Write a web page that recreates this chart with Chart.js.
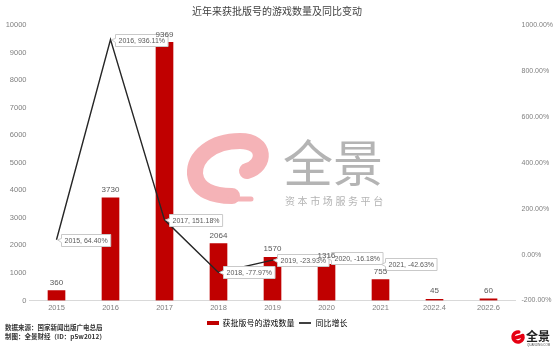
<!DOCTYPE html>
<html>
<head>
<meta charset="utf-8">
<script src="https://cdn.jsdelivr.net/npm/chart.js@4/dist/chart.umd.min.js"></script>
<style>
  html, body { margin: 0; padding: 0; background: #fff; }
  #wrap { width: 554px; height: 351px; position: relative; }
</style>
</head>
<body>
<div id="wrap"><canvas id="gameChart"></canvas></div>
<script>
// données
const years = ['2015', '2016', '2017', '2018', '2019', '2020', '2021', '2022.4', '2022.6'];
const approved = [360, 3730, 9369, 2064, 1570, 1316, 755, 45, 60];
const growth = [64.40, 936.11, 151.18, -77.97, -23.93, -16.18, -42.63, null, null];

const FONT = '"Liberation Sans", "Noto Sans CJK SC", sans-serif';
const CJK = '"Noto Sans CJK SC", "Liberation Sans", sans-serif';

// petites images pour la légende (rectangle rouge / trait noir)
function swatch(w, h, color) {
    const c = document.createElement('canvas');
    c.width = w; c.height = h;
    const g = c.getContext('2d');
    g.fillStyle = color;
    g.fillRect(0, 0, w, h);
    return c;
}
const barSwatch = swatch(12, 4, '#c00000');
const lineSwatch = swatch(12, 2, '#404040');

// filigrane au centre
const watermark = {
    id: 'watermark',
    beforeDatasetsDraw(chart) {
        const ctx = chart.ctx;
        ctx.save();
        ctx.strokeStyle = '#f5b3b7';
        ctx.lineCap = 'round';
        ctx.lineWidth = 16;
        ctx.beginPath();
        ctx.moveTo(247, 171);
        ctx.bezierCurveTo(266, 166, 267, 141, 240, 141);
        ctx.bezierCurveTo(212, 141, 194, 157, 195, 174);
        ctx.bezierCurveTo(197, 191, 214, 196, 232, 196);
        ctx.stroke();
        ctx.lineWidth = 5;
        ctx.beginPath();
        ctx.moveTo(230, 199);
        ctx.lineTo(251, 199);
        ctx.stroke();
        ctx.fillStyle = '#b4b4b4';
        ctx.font = '50px ' + CJK;
        ctx.textBaseline = 'middle';
        ctx.textAlign = 'left';
        ctx.fillText('全景', 283, 163);
        ctx.font = '10px ' + CJK;
        ctx.letterSpacing = '2.6px';
        ctx.fillText('资本市场服务平台', 285, 201);
        ctx.restore();
    }
};

// étiquettes de la courbe puis des barres (les nombres passent au-dessus)
const labels = {
    id: 'labels',
    afterDatasetsDraw(chart) {
        const ctx = chart.ctx;
        ctx.save();
        const pts = chart.getDatasetMeta(1).data;
        ctx.font = '7px ' + FONT;
        ctx.textAlign = 'left';
        ctx.textBaseline = 'middle';
        pts.forEach((p, i) => {
            if (growth[i] === null) return;
            const txt = years[i] + ', ' + growth[i].toFixed(2) + '%';
            const w = ctx.measureText(txt).width + 6;
            const bx = Math.round(p.x) + 4.5, by = Math.round(p.y) - 5.5, h = 12;
            ctx.fillStyle = '#fff';
            ctx.strokeStyle = '#c9c9c9';
            ctx.lineWidth = 1;
            ctx.beginPath();
            ctx.moveTo(bx, by);
            ctx.lineTo(bx + w, by);
            ctx.lineTo(bx + w, by + h);
            ctx.lineTo(bx, by + h);
            ctx.lineTo(bx, by + 8);
            ctx.lineTo(p.x + 1, p.y);
            ctx.lineTo(bx, by + 4);
            ctx.closePath();
            ctx.fill();
            ctx.stroke();
            ctx.fillStyle = '#595959';
            ctx.fillText(txt, bx + 3, by + h / 2 + 0.5);
        });

        const bars = chart.getDatasetMeta(0).data;
        ctx.font = '8px ' + FONT;
        ctx.fillStyle = '#595959';
        ctx.textAlign = 'center';
        ctx.textBaseline = 'bottom';
        bars.forEach((b, i) => ctx.fillText(approved[i], b.x, b.y - 4));
        ctx.restore();
    },
    afterDraw(chart) {
        const ctx = chart.ctx;
        ctx.save();
        // source en bas à gauche
        ctx.fillStyle = '#333';
        ctx.font = 'bold 6.5px ' + CJK;
        ctx.textBaseline = 'middle';
        ctx.fillText('数据来源：国家新闻出版广电总局', 5, 328);
        ctx.fillText('制图：全景财经（ID：p5w2012）', 5, 337);
        // petit logo en bas à droite
        ctx.strokeStyle = '#e60012';
        ctx.lineCap = 'round';
        ctx.lineWidth = 3.5;
        ctx.beginPath();
        ctx.arc(518, 337, 5, -0.3, Math.PI * 1.55, false);
        ctx.stroke();
        ctx.beginPath();
        ctx.moveTo(515, 338);
        ctx.lineTo(522, 336);
        ctx.stroke();
        ctx.fillStyle = '#222';
        ctx.font = 'bold 12px ' + CJK;
        ctx.fillText('全景', 526, 336);
        ctx.font = '3px ' + FONT;
        ctx.fillStyle = '#555';
        ctx.fillText('QUANJING.COM', 527, 345);
        ctx.restore();
    }
};

const tickFont = { family: FONT, size: 7.5 };
const noGrid = { display: false, drawTicks: false };

const ctx = document.getElementById('gameChart').getContext('2d');
const chart = new Chart(ctx, {
    data: {
        labels: years,
        datasets: [{
            type: 'bar',
            label: '获批版号的游戏数量',
            data: approved,
            backgroundColor: '#c00000',
            barThickness: 17,
            yAxisID: 'y',
            order: 2
        }, {
            type: 'line',
            label: '同比增长',
            data: growth,
            borderColor: '#262626',
            backgroundColor: '#262626',
            borderWidth: 1.4,
            pointRadius: 0,
            tension: 0,
            yAxisID: 'y1',
            order: 1
        }]
    },
    options: {
        responsive: true,
        maintainAspectRatio: false,
        animation: false,
        layout: { padding: { left: 0, right: 0, top: 0, bottom: 14 } },
        plugins: {
            title: {
                display: true,
                text: '近年来获批版号的游戏数量及同比变动',
                color: '#404040',
                font: { family: CJK, size: 10, weight: 'normal' },
                padding: { top: 5, bottom: 8 }
            },
            legend: {
                position: 'bottom',
                labels: {
                    color: '#595959',
                    font: { family: CJK, size: 8 },
                    usePointStyle: true,
                    pointStyleWidth: 12,
                    boxHeight: 8,
                    padding: 5,
                    generateLabels: (c) => c.data.datasets.map((d, i) => ({
                        text: d.label,
                        pointStyle: i === 0 ? barSwatch : lineSwatch,
                        fillStyle: i === 0 ? '#c00000' : '#404040',
                        strokeStyle: 'transparent',
                        lineWidth: 0,
                        datasetIndex: i,
                        hidden: false
                    }))
                }
            },
            tooltip: { enabled: false }
        },
        scales: {
            x: {
                grid: noGrid,
                border: { color: '#d9d9d9' },
                ticks: { color: '#7f7f7f', font: tickFont, padding: 3 },
                afterFit: (s) => { s.height = 13.5; }
            },
            y: {
                position: 'left',
                min: 0,
                max: 10000,
                grid: noGrid,
                border: { display: false },
                ticks: { stepSize: 1000, color: '#7f7f7f', font: tickFont, padding: 3, callback: (v) => String(v) },
                afterFit: (s) => { s.width = 29.5; }
            },
            y1: {
                position: 'right',
                min: -200,
                max: 1000,
                grid: noGrid,
                border: { display: false },
                ticks: {
                    stepSize: 200,
                    color: '#7f7f7f',
                    font: { family: FONT, size: 7 },
                    padding: 6,
                    callback: (v) => v.toFixed(2) + '%'
                },
                afterFit: (s) => { s.width = 38.5; }
            }
        }
    },
    plugins: [watermark, labels]
});
</script>
</body>
</html>
